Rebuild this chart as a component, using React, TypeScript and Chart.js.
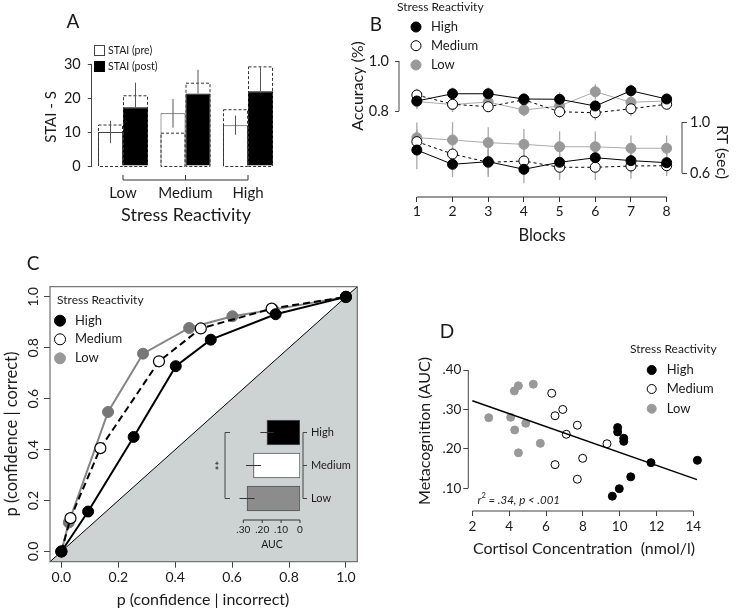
import React, { useEffect, useRef } from "react";
import { Chart, registerables } from "chart.js";

Chart.register(...registerables);

const FONT = "Lato, 'Open Sans', 'DejaVu Sans', sans-serif";
Chart.defaults.font.family = FONT;
Chart.defaults.color = "#1a1a1a";

const W = 736;
const H = 612;

// ---------------- Panel A : STAI ----------------
const aCategories = ["Low", "Medium", "High"];
const aPre = [10, 15.5, 12];
const aPost = [17.3, 21.3, 22];
const aPreErr = [3.3, 4.2, 2.8];
const aPostErr = [7.2, 7.0, 7.0];
const aPreDashed = [12.2, 9.8, 16.7];
const aPostDashed = [20.8, 24.5, 29.3];
const aTicks = [0, 10, 20, 30];

// ---------------- Panel B : accuracy / RT by block ----------------
const blocks = [1, 2, 3, 4, 5, 6, 7, 8];
const accHigh = [0.84, 0.869, 0.869, 0.848, 0.847, 0.82, 0.881, 0.848];
const accMedium = [0.864, 0.827, 0.817, 0.845, 0.797, 0.793, 0.809, 0.827];
const accLow = [0.838, 0.826, 0.836, 0.804, 0.82, 0.877, 0.835, 0.84];
const accHighErr = [0.03, 0.025, 0.025, 0.025, 0.028, 0.025, 0.025, 0.022];
const accMediumErr = [0.025, 0.03, 0.02, 0.02, 0.025, 0.03, 0.03, 0.02];
const accLowErr = [0.03, 0.03, 0.03, 0.025, 0.025, 0.03, 0.03, 0.025];
const rtHigh = [0.78, 0.668, 0.689, 0.629, 0.684, 0.72, 0.697, 0.681];
const rtMedium = [0.846, 0.749, 0.684, 0.694, 0.645, 0.645, 0.655, 0.657];
const rtLow = [0.877, 0.859, 0.838, 0.825, 0.806, 0.806, 0.794, 0.794];
const rtHighErr = [0.15, 0.1, 0.12, 0.11, 0.12, 0.1, 0.1, 0.08];
const rtMediumErr = [0.1, 0.1, 0.1, 0.1, 0.1, 0.1, 0.1, 0.08];
const rtLowErr = [0.12, 0.14, 0.12, 0.12, 0.12, 0.12, 0.1, 0.1];
const accTicks = [0.8, 1.0];
const rtTicks = [0.6, 1.0];

// ---------------- Panel C : type-2 ROC ----------------
const rocHighX = [0, 0.094, 0.254, 0.402, 0.525, 0.753, 1];
const rocHighY = [0, 0.157, 0.45, 0.728, 0.832, 0.932, 1];
const rocMediumX = [0, 0.032, 0.137, 0.343, 0.49, 0.739, 1];
const rocMediumY = [0, 0.131, 0.406, 0.747, 0.876, 0.954, 1];
const rocLowX = [0, 0.026, 0.164, 0.287, 0.449, 0.601, 0.745, 1];
const rocLowY = [0, 0.114, 0.548, 0.777, 0.878, 0.924, 0.95, 1];
const chanceX = [-0.04, 1.04];
const chanceY = [-0.04, 1.04];
const rocTicks = [0, 0.2, 0.4, 0.6, 0.8, 1.0];

// inset AUC
const aucGroups = ["High", "Medium", "Low"];
const aucValues = [0.175, 0.246, 0.28];
const aucErr = [0.035, 0.04, 0.04];
const aucTicks = [0, 0.1, 0.2, 0.3];
const aucTickLabels = ["0", ".10", ".20", ".30"];

// ---------------- Panel D : cortisol vs metacognition ----------------
const dHighX = [9.89, 9.89, 10.22, 10.22, 9.6, 9.98, 10.6, 11.7, 14.22];
const dHighY = [0.254, 0.243, 0.227, 0.219, 0.08, 0.099, 0.129, 0.165, 0.171];
const dMediumX = [6.31, 6.91, 6.49, 7.7, 7.1, 9.31, 7.99, 6.49, 7.7];
const dMediumY = [0.341, 0.3, 0.284, 0.26, 0.237, 0.213, 0.176, 0.16, 0.123];
const dLowX = [2.89, 4.08, 4.28, 4.5, 5.31, 4.3, 4.9, 4.5, 5.69];
const dLowY = [0.279, 0.28, 0.347, 0.36, 0.364, 0.248, 0.265, 0.19, 0.214];
const fitX = [2, 14.2];
const fitY = [0.322, 0.122];
const dTicksX = [2, 4, 6, 8, 10, 12, 14];
const dTicksY = [0.1, 0.2, 0.3, 0.4];
const dTickLabelsY = [".10", ".20", ".30", ".40"];

// ---------------- helpers ----------------
const AX = 40; // fixed axis box size
const fit = (size: number) => (s: any) => {
  if (s.isHorizontal()) s.height = size;
  else s.width = size;
};
const ticksAt = (vals: number[]) => (s: any) => {
  s.ticks = vals.map((v) => ({ value: v }));
};
type Ax = { left?: number; right?: number; bottom?: number };
const base = (l: number, t: number, r: number, b: number, ax: Ax) => ({
  responsive: false,
  animation: false,
  devicePixelRatio: 1,
  events: [],
  layout: {
    padding: {
      left: l - (ax.left || 0),
      top: t,
      right: W - r - (ax.right || 0),
      bottom: H - b - (ax.bottom || 0),
    },
  },
  plugins: { legend: { display: false }, tooltip: { enabled: false } },
});
const zip = (xs: number[], ys: number[]) => xs.map((x, i) => ({ x, y: ys[i] }));

type TOpt = { size: number; align?: CanvasTextAlign; rot?: number; style?: string; color?: string };
function text(ctx: CanvasRenderingContext2D, s: string, x: number, y: number, o: TOpt) {
  ctx.save();
  ctx.font = `${o.style || "normal"} ${o.size}px ${FONT}`;
  ctx.fillStyle = o.color || "#1a1a1a";
  ctx.textAlign = o.align || "center";
  ctx.textBaseline = "middle";
  ctx.translate(x, y);
  if (o.rot) ctx.rotate(o.rot);
  ctx.fillText(s, 0, 0);
  ctx.restore();
}
function seg(ctx: CanvasRenderingContext2D, x1: number, y1: number, x2: number, y2: number, color = "#333", w = 1, dash: number[] = []) {
  ctx.save();
  ctx.strokeStyle = color;
  ctx.lineWidth = w;
  ctx.setLineDash(dash);
  ctx.beginPath();
  ctx.moveTo(x1, y1);
  ctx.lineTo(x2, y2);
  ctx.stroke();
  ctx.restore();
}
function dot(ctx: CanvasRenderingContext2D, x: number, y: number, r: number, fill: string, stroke: string) {
  ctx.save();
  ctx.beginPath();
  ctx.arc(x, y, r, 0, Math.PI * 2);
  ctx.fillStyle = fill;
  ctx.fill();
  ctx.strokeStyle = stroke;
  ctx.lineWidth = 1;
  ctx.stroke();
  ctx.restore();
}
const UP = -Math.PI / 2;
const DOWN = Math.PI / 2;

// ---------------- configs ----------------
function configA(): any {
  return {
    type: "bar",
    data: {
      labels: aCategories,
      datasets: [
        { label: "STAI (pre)", data: aPre, backgroundColor: "#fff", borderColor: "#444", borderWidth: 1, categoryPercentage: 0.8, barPercentage: 1 },
        { label: "STAI (post)", data: aPost, backgroundColor: "#000", borderColor: "#000", borderWidth: 1, categoryPercentage: 0.8, barPercentage: 1 },
      ],
    },
    options: {
      ...base(91.75, 64, 279.25, 166, { left: AX, bottom: AX }),
      scales: {
        x: {
          offset: true,
          grid: { display: false, drawTicks: false },
          border: { display: false },
          ticks: { font: { size: 15 }, padding: 18, maxRotation: 0 },
          afterFit: fit(AX),
        },
        y: {
          min: 0,
          max: 30,
          afterBuildTicks: ticksAt(aTicks),
          grid: { drawOnChartArea: false, tickLength: 4, color: "#444" },
          border: { display: true, color: "#444" },
          ticks: { font: { size: 14.5 }, padding: 7 },
          afterFit: fit(AX),
        },
      },
    },
    plugins: [
      {
        id: "aExtras",
        afterDatasetsDraw(chart: any) {
          const ctx = chart.ctx;
          const ys = chart.scales.y;
          const xs = chart.scales.x;
          const pre = chart.getDatasetMeta(0).data;
          const post = chart.getDatasetMeta(1).data;
          // dashed outlines
          ctx.save();
          ctx.strokeStyle = "#333";
          ctx.lineWidth = 1;
          ctx.setLineDash([3, 2]);
          [
            [pre, aPreDashed],
            [post, aPostDashed],
          ].forEach(([meta, vals]: any) =>
            meta.forEach((bar: any, j: number) => {
              const l = bar.x - bar.width / 2;
              const top = ys.getPixelForValue(vals[j]);
              const bot = ys.getPixelForValue(0);
              ctx.strokeRect(l + 0.5, top + 0.5, bar.width - 1, bot - top);
            })
          );
          ctx.restore();
          // error bars
          pre.forEach((bar: any, j: number) =>
            seg(ctx, bar.x, ys.getPixelForValue(aPre[j] - aPreErr[j]), bar.x, ys.getPixelForValue(aPre[j] + aPreErr[j]), "#555", 1)
          );
          post.forEach((bar: any, j: number) =>
            seg(ctx, bar.x, ys.getPixelForValue(aPost[j]), bar.x, ys.getPixelForValue(aPost[j] + aPostErr[j]), "#555", 1)
          );
          // x bracket
          const yb = chart.chartArea.bottom + 14;
          const x0 = xs.getPixelForValue(0);
          const x2 = xs.getPixelForValue(2);
          seg(ctx, x0, yb, x2, yb, "#333", 1);
          [0, 1, 2].forEach((i) => {
            const px = xs.getPixelForValue(i);
            seg(ctx, px, yb, px, yb - 5, "#333", 1);
          });
          // legend
          ctx.save();
          ctx.fillStyle = "#fff";
          ctx.strokeStyle = "#444";
          ctx.fillRect(94.5, 45.5, 10, 10);
          ctx.strokeRect(94.5, 45.5, 10, 10);
          ctx.fillStyle = "#000";
          ctx.fillRect(94, 61, 11, 11);
          ctx.restore();
          text(ctx, "STAI (pre)", 108, 50.5, { size: 10.5, align: "left" });
          text(ctx, "STAI (post)", 108, 66.5, { size: 10.5, align: "left" });
          // titles
          text(ctx, "A", 73, 22, { size: 19 });
          text(ctx, "STAI - S", 51, 117, { size: 15, rot: UP });
          text(ctx, "Stress Reactivity", 186, 215, { size: 18 });
        },
      },
    ],
  };
}

function configB(): any {
  const st: any = {
    High: { borderColor: "#000", pointBackgroundColor: "#000", pointBorderColor: "#000" },
    Medium: { borderColor: "#000", pointBackgroundColor: "#fff", pointBorderColor: "#000", borderDash: [3, 3] },
    Low: { borderColor: "#aaa", pointBackgroundColor: "#999", pointBorderColor: "#999" },
  };
  const mk = (vals: number[], axis: string, s: any) => ({
    data: zip(blocks, vals),
    yAxisID: axis,
    borderWidth: 1,
    pointRadius: 5,
    pointBorderWidth: 1,
    clip: false,
    tension: 0,
    ...s,
  });
  const errs = [accHighErr, accMediumErr, accLowErr, rtHighErr, rtMediumErr, rtLowErr];
  return {
    type: "line",
    data: {
      datasets: [
        mk(accHigh, "yAcc", st.High),
        mk(accMedium, "yAcc", st.Medium),
        mk(accLow, "yAcc", st.Low),
        mk(rtHigh, "yRT", st.High),
        mk(rtMedium, "yRT", st.Medium),
        mk(rtLow, "yRT", st.Low),
      ],
    },
    options: {
      ...base(399, 55, 682, 197, { left: AX, right: AX, bottom: AX }),
      scales: {
        x: {
          type: "linear",
          min: 0.5,
          max: 8.43,
          afterBuildTicks: ticksAt(blocks),
          grid: { drawOnChartArea: false, tickLength: 5, color: "#333" },
          border: { display: false },
          ticks: { font: { size: 14 }, padding: 1, maxRotation: 0, callback: (v: number) => String(v) },
          afterFit: fit(AX),
        },
        yAcc: {
          type: "linear",
          position: "left",
          min: 0.456,
          max: 1.024,
          afterBuildTicks: ticksAt(accTicks),
          grid: { drawOnChartArea: false, tickLength: 4, color: "#444" },
          border: { display: false },
          ticks: { font: { size: 14.5 }, padding: 6, callback: (v: number) => v.toFixed(1) },
          afterFit: fit(AX),
        },
        yRT: {
          type: "linear",
          position: "right",
          min: 0.4118,
          max: 1.5255,
          afterBuildTicks: ticksAt(rtTicks),
          grid: { drawOnChartArea: false, tickLength: 5, color: "#444" },
          border: { display: false },
          ticks: { font: { size: 14.5 }, padding: 3, callback: (v: number) => v.toFixed(1) },
          afterFit: fit(AX),
        },
      },
    },
    plugins: [
      {
        id: "bExtras",
        beforeDatasetsDraw(chart: any) {
          const ctx = chart.ctx;
          const xs = chart.scales.x;
          chart.data.datasets.forEach((ds: any, i: number) => {
            const ys = chart.scales[ds.yAxisID];
            ds.data.forEach((p: any, j: number) => {
              const px = xs.getPixelForValue(p.x);
              seg(ctx, px, ys.getPixelForValue(p.y - errs[i][j]), px, ys.getPixelForValue(p.y + errs[i][j]), "#a8a8a8", 1.3);
            });
          });
        },
        afterDraw(chart: any) {
          const ctx = chart.ctx;
          const xs = chart.scales.x;
          const ya = chart.scales.yAcc;
          const yr = chart.scales.yRT;
          const ca = chart.chartArea;
          seg(ctx, xs.getPixelForValue(1), ca.bottom, xs.getPixelForValue(8), ca.bottom, "#333", 1);
          seg(ctx, ca.left, ya.getPixelForValue(0.8), ca.left, ya.getPixelForValue(1.0), "#444", 1);
          seg(ctx, ca.right, yr.getPixelForValue(0.6), ca.right, yr.getPixelForValue(1.0), "#444", 1);
          // legend
          text(ctx, "Stress Reactivity", 397, 7.5, { size: 12, align: "left" });
          dot(ctx, 416, 27, 5, "#000", "#000");
          dot(ctx, 416, 45.7, 5, "#fff", "#000");
          dot(ctx, 416, 65, 5, "#999", "#999");
          text(ctx, "High", 431, 27, { size: 13, align: "left" });
          text(ctx, "Medium", 431, 45.7, { size: 13, align: "left" });
          text(ctx, "Low", 431, 65, { size: 13, align: "left" });
          // titles
          text(ctx, "B", 376, 25, { size: 19 });
          text(ctx, "Accuracy (%)", 358, 86, { size: 16, rot: UP });
          text(ctx, "RT (sec)", 722, 152, { size: 16, rot: DOWN });
          text(ctx, "Blocks", 542, 236, { size: 16.5 });
        },
      },
    ],
  };
}

function configC(): any {
  const common = { showLine: true, borderWidth: 2, pointRadius: 5.5, pointBorderWidth: 1, clip: false, tension: 0 };
  return {
    type: "scatter",
    data: {
      datasets: [
        { ...common, data: zip(rocHighX, rocHighY), borderColor: "#000", pointBackgroundColor: "#000", pointBorderColor: "#000" },
        { ...common, data: zip(rocMediumX, rocMediumY), borderColor: "#000", borderDash: [7, 4], pointBackgroundColor: "#fff", pointBorderColor: "#000", pointBorderWidth: 1.2 },
        { ...common, data: zip(rocLowX, rocLowY), borderColor: "#858585", pointBackgroundColor: "#777", pointBorderColor: "#777" },
        { data: zip(chanceX, chanceY), showLine: true, fill: "start", backgroundColor: "#cdd3d3", borderColor: "#000", borderWidth: 1, pointRadius: 0 },
      ],
    },
    options: {
      ...base(50, 286.7, 357.3, 561.7, { left: AX, bottom: AX }),
      scales: {
        x: {
          type: "linear",
          min: -0.04,
          max: 1.04,
          afterBuildTicks: ticksAt(rocTicks),
          grid: { drawOnChartArea: false, tickLength: 6, color: "#444" },
          border: { display: false },
          ticks: { font: { size: 14 }, padding: 1, maxRotation: 0, callback: (v: number) => v.toFixed(1) },
          afterFit: fit(AX),
        },
        y: {
          type: "linear",
          min: -0.04,
          max: 1.04,
          afterBuildTicks: ticksAt(rocTicks),
          grid: { drawOnChartArea: false, tickLength: 6, color: "#444" },
          border: { display: false },
          ticks: { display: false },
          afterFit: fit(AX),
        },
      },
    },
    plugins: [
      {
        id: "cExtras",
        afterDraw(chart: any) {
          const ctx = chart.ctx;
          const ca = chart.chartArea;
          const ys = chart.scales.y;
          ctx.save();
          ctx.strokeStyle = "#555";
          ctx.lineWidth = 1;
          ctx.strokeRect(ca.left, ca.top, ca.right - ca.left, ca.bottom - ca.top);
          ctx.restore();
          rocTicks.forEach((v) => text(ctx, v.toFixed(1), 33, ys.getPixelForValue(v), { size: 14, rot: UP }));
          // legend
          text(ctx, "Stress Reactivity", 57, 300, { size: 12, align: "left" });
          dot(ctx, 60, 320.7, 5.5, "#000", "#000");
          dot(ctx, 60, 339.3, 5.5, "#fff", "#000");
          dot(ctx, 60, 358.3, 5.5, "#999", "#999");
          text(ctx, "High", 75, 320.7, { size: 13, align: "left" });
          text(ctx, "Medium", 75, 339.3, { size: 13, align: "left" });
          text(ctx, "Low", 75, 358.3, { size: 13, align: "left" });
          // titles
          text(ctx, "C", 33, 264, { size: 19 });
          text(ctx, "p (confidence | incorrect)", 203, 600, { size: 16 });
          text(ctx, "p (confidence | correct)", 12, 434, { size: 16.5, rot: UP });
        },
      },
    ],
  };
}

function configInset(): any {
  return {
    type: "bar",
    data: {
      labels: aucGroups,
      datasets: [
        {
          data: aucValues,
          backgroundColor: ["#000", "#fff", "#8c8c8c"],
          borderColor: "#555",
          borderWidth: 1,
          borderSkipped: false,
          barThickness: 25,
        },
      ],
    },
    options: {
      ...base(243.3, 416, 300, 515, { right: 60, bottom: AX }),
      indexAxis: "y",
      scales: {
        x: {
          type: "linear",
          reverse: true,
          min: 0,
          max: 0.3,
          afterBuildTicks: ticksAt(aucTicks),
          grid: { display: false, drawTicks: false },
          border: { display: false },
          ticks: { font: { size: 10 }, padding: 9, maxRotation: 0, callback: (_v: number, i: number) => aucTickLabels[i] },
          afterFit: fit(AX),
        },
        y: {
          position: "right",
          grid: { display: false, drawTicks: false },
          border: { display: false },
          ticks: { font: { size: 11 }, padding: 11 },
          afterFit: fit(60),
        },
      },
    },
    plugins: [
      {
        id: "insetExtras",
        afterDraw(chart: any) {
          const ctx = chart.ctx;
          const xs = chart.scales.x;
          const ys = chart.scales.y;
          const ca = chart.chartArea;
          // error bars
          aucValues.forEach((v, i) => {
            const py = ys.getPixelForValue(i);
            seg(ctx, xs.getPixelForValue(v + aucErr[i]), py, xs.getPixelForValue(v - aucErr[i]), py, "#333", 1);
          });
          // x axis
          const yb = ca.bottom + 5;
          seg(ctx, xs.getPixelForValue(0.3), yb, xs.getPixelForValue(0), yb, "#333", 1);
          aucTicks.forEach((v) => {
            const px = xs.getPixelForValue(v);
            seg(ctx, px, yb, px, yb + 3, "#333", 1);
          });
          // category bracket
          const xr = ca.right + 3;
          seg(ctx, xr, ys.getPixelForValue(0), xr, ys.getPixelForValue(2), "#444", 1);
          [0, 1, 2].forEach((i) => seg(ctx, xr, ys.getPixelForValue(i), xr + 4, ys.getPixelForValue(i), "#444", 1));
          // significance bracket
          const xl = 225;
          const t = ys.getPixelForValue(0);
          const b = ys.getPixelForValue(2);
          seg(ctx, xl, t, xl, b, "#444", 1);
          seg(ctx, xl, t, xl + 5, t, "#444", 1);
          seg(ctx, xl, b, xl + 5, b, "#444", 1);
          text(ctx, "**", 220, (t + b) / 2, { size: 11, rot: UP });
          text(ctx, "AUC", 272, 545, { size: 10.5 });
        },
      },
    ],
  };
}

function configD(): any {
  return {
    type: "scatter",
    data: {
      datasets: [
        { type: "line", data: zip(fitX, fitY), borderColor: "#000", borderWidth: 1.5, pointRadius: 0, clip: false },
        { data: zip(dHighX, dHighY), pointRadius: 4, pointBackgroundColor: "#000", pointBorderColor: "#000", clip: false },
        { data: zip(dMediumX, dMediumY), pointRadius: 4, pointBackgroundColor: "#fff", pointBorderColor: "#000", pointBorderWidth: 1, clip: false },
        { data: zip(dLowX, dLowY), pointRadius: 4, pointBackgroundColor: "#999", pointBorderColor: "#999", clip: false },
      ],
    },
    options: {
      ...base(468.3, 360, 705, 511, { left: AX, bottom: AX }),
      scales: {
        x: {
          type: "linear",
          min: 1.78,
          max: 14.633,
          afterBuildTicks: ticksAt(dTicksX),
          grid: { drawOnChartArea: false, tickLength: 5, color: "#444" },
          border: { display: false },
          ticks: { font: { size: 13.5 }, padding: 3, maxRotation: 0, callback: (v: number) => String(v) },
          afterFit: fit(AX),
        },
        y: {
          type: "linear",
          min: 0.0424,
          max: 0.4254,
          afterBuildTicks: ticksAt(dTicksY),
          grid: { drawOnChartArea: false, tickLength: 5, color: "#444" },
          border: { display: false },
          ticks: { font: { size: 13.5 }, padding: 2, callback: (_v: number, i: number) => dTickLabelsY[i] },
          afterFit: fit(AX),
        },
      },
    },
    plugins: [
      {
        id: "dExtras",
        afterDraw(chart: any) {
          const ctx = chart.ctx;
          const xs = chart.scales.x;
          const ys = chart.scales.y;
          const ca = chart.chartArea;
          seg(ctx, ca.left, ys.getPixelForValue(0.1), ca.left, ys.getPixelForValue(0.4), "#444", 1);
          seg(ctx, xs.getPixelForValue(2), ca.bottom, xs.getPixelForValue(14), ca.bottom, "#444", 1);
          // legend
          text(ctx, "Stress Reactivity", 630, 349.3, { size: 12, align: "left" });
          dot(ctx, 651.7, 370, 4.5, "#000", "#000");
          dot(ctx, 651.7, 389, 4.5, "#fff", "#000");
          dot(ctx, 651.7, 408.7, 4.5, "#999", "#999");
          text(ctx, "High", 666.7, 370, { size: 13, align: "left" });
          text(ctx, "Medium", 666.7, 389, { size: 13, align: "left" });
          text(ctx, "Low", 666.7, 408.7, { size: 13, align: "left" });
          // r² annotation
          let x = 477.5;
          const y = 500;
          const part = (s: string, size: number, style: string, dy = 0) => {
            ctx.save();
            ctx.font = `${style} ${size}px ${FONT}`;
            const w = ctx.measureText(s).width;
            ctx.restore();
            text(ctx, s, x, y + dy, { size, align: "left", style });
            x += w;
          };
          part("r", 11.5, "italic");
          part("2", 7.5, "normal", -4);
          part(" = .34, ", 11.5, "italic");
          part("p", 11.5, "italic");
          part(" < .001", 11.5, "italic");
          // titles
          text(ctx, "D", 447, 332, { size: 19 });
          text(ctx, "Cortisol Concentration  (nmol/l)", 584, 548.5, { size: 16 });
          text(ctx, "Metacognition (AUC)", 425, 431, { size: 16, rot: UP });
        },
      },
    ],
  };
}

function Layer({ make }: { make: () => any }) {
  const ref = useRef<HTMLCanvasElement>(null);
  useEffect(() => {
    const chart = new Chart(ref.current as HTMLCanvasElement, make());
    return () => chart.destroy();
  }, []);
  return (
    <canvas
      ref={ref}
      width={W}
      height={H}
      style={{ position: "absolute", left: 0, top: 0, width: W, height: H }}
    />
  );
}

export default function App() {
  return (
    <div style={{ position: "absolute", left: 0, top: 0, width: W, height: H, background: "#fff", overflow: "hidden" }}>
      <Layer make={configA} />
      <Layer make={configB} />
      <Layer make={configC} />
      <Layer make={configInset} />
      <Layer make={configD} />
    </div>
  );
}
